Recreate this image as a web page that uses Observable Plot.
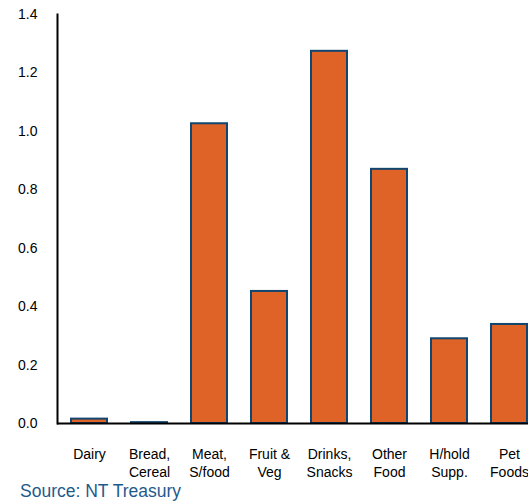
<!DOCTYPE html>
<html>
<head>
<meta charset="utf-8">
<script src="https://cdn.jsdelivr.net/npm/d3@7"></script>
<script src="https://cdn.jsdelivr.net/npm/@observablehq/plot@0.6"></script>
<style>
  html, body { margin: 0; padding: 0; background: #fff; }
  body { width: 528px; height: 501px; overflow: hidden; font-family: "Liberation Sans", Arial, sans-serif; }
  #caption { font-size: 17.5px; line-height: 17px; color: #1f5a8c; padding-left: 20px; white-space: nowrap; }
</style>
</head>
<body>
<div id="chart"></div>
<div id="caption">Source: NT Treasury</div>
<script>
const categories = ["Dairy", "Bread,\nCereal", "Meat,\nS/food", "Fruit &\nVeg", "Drinks,\nSnacks", "Other\nFood", "H/hold\nSupp.", "Pet\nFoods"];
const values = [0.015, 0.003, 1.026, 0.452, 1.274, 0.870, 0.290, 0.339];
const yTicks = [0, 0.2, 0.4, 0.6, 0.8, 1.0, 1.2, 1.4];

const data = categories.map((c, i) => ({category: c, value: values[i]}));

const chart = Plot.plot({
  width: 528,
  height: 483,
  marginTop: 14,
  marginBottom: 60,
  marginLeft: 57,
  marginRight: 0,
  style: {fontFamily: "Liberation Sans, Arial, sans-serif", fontSize: "14px", color: "#000", background: "#fff", overflow: "visible"},
  x: {type: "band", domain: categories, range: [58.5, 538.5], paddingInner: 0.4, paddingOuter: 0.2},
  y: {domain: [0, 1.4]},
  marks: [
    Plot.barY(data, {x: "category", y: "value", fill: "#df6226", stroke: "#10466f", strokeWidth: 2}),
    Plot.ruleY([0], {stroke: "#000", strokeWidth: 2}),
    Plot.frame({anchor: "left", stroke: "#000", strokeWidth: 2}),
    Plot.axisY({ticks: yTicks, tickFormat: d3.format(".1f"), tickSize: 0, tickPadding: 20, fontSize: 14, label: null}),
    Plot.axisX({tickSize: 0, tickPadding: 22, fontSize: 14, lineHeight: 1.33, label: null})
  ]
});
document.getElementById("chart").appendChild(chart);
</script>
</body>
</html>
